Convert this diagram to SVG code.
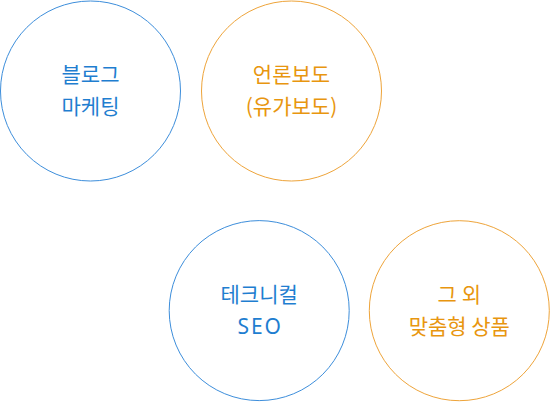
<svg xmlns="http://www.w3.org/2000/svg" width="550" height="402" viewBox="0 0 550 402">
<style>
.c{fill:#fff;stroke-width:1}
.b{stroke:#3d8edb}
.o{stroke:#eea43a}
text{font-family:"Noto Sans CJK KR","Noto Sans",sans-serif;font-size:21px;text-anchor:middle}
.tb{fill:#1f7ed0}
.to{fill:#e8960f}
.lat{font-family:"Noto Sans",sans-serif;letter-spacing:2px}
</style>
<rect width="550" height="402" fill="#fff"/>
<g id="node-blog">
<circle class="c b" cx="90.5" cy="91" r="90"/>
<text class="tb" x="90.5" y="82">블로그</text>
<text class="tb" x="90.5" y="114">마케팅</text>
</g>
<g id="node-press">
<circle class="c o" cx="291.5" cy="91" r="90"/>
<text class="to" x="291.5" y="82">언론보도</text>
<text class="to" x="291.5" y="114">(유가보도)</text>
</g>
<g id="node-seo">
<circle class="c b" cx="259.2" cy="310.6" r="90"/>
<text class="tb" x="259.2" y="302">테크니컬</text>
<text class="tb lat" x="260.2" y="334.3">SEO</text>
</g>
<g id="node-etc">
<circle class="c o" cx="459.3" cy="310.7" r="90"/>
<text class="to" x="459.3" y="302">그 외</text>
<text class="to" x="459.3" y="334">맞춤형 상품</text>
</g>
<g id="connectors"></g>
</svg>
